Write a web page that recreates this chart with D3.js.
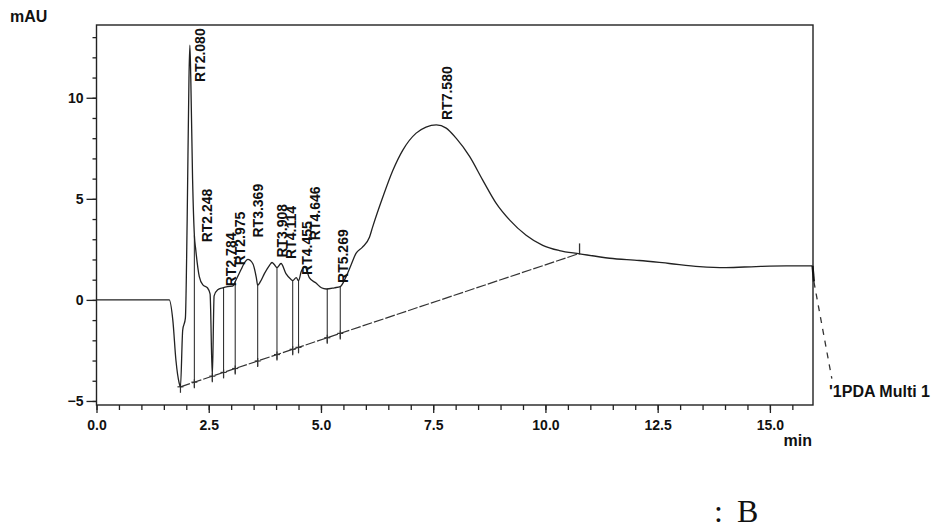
<!DOCTYPE html>
<html>
<head>
<meta charset="utf-8">
<script src="https://cdn.jsdelivr.net/npm/d3@7"></script>
<style>
  body { margin: 0; background: #fff; }
  svg text { font-family: "Liberation Sans", Arial, sans-serif; fill: #111; }
</style>
</head>
<body>
<svg id="chart" width="937" height="531"></svg>
<script>
// signal (min / mAU)
const times = [0, 1.62, 1.70, 1.77, 1.84, 1.87, 1.92, 1.98, 2.02, 2.06, 2.08, 2.10, 2.14, 2.18, 2.21, 2.29, 2.37, 2.47, 2.53, 2.58,
  2.62, 2.70, 2.81, 2.92, 3.03, 3.11, 3.22, 3.30, 3.37, 3.48, 3.56, 3.59, 3.65, 3.74, 3.85, 3.91, 3.96, 4.02, 4.11, 4.22,
  4.34, 4.37, 4.45, 4.50, 4.56, 4.64, 4.74, 4.89, 5.01, 5.12, 5.30, 5.43, 5.56, 5.67, 5.78, 5.92, 6.08, 6.15, 6.38, 6.60,
  6.82, 7.12, 7.34, 7.57, 7.79, 8.01, 8.31, 8.60, 8.90, 9.20, 9.57, 9.94, 10.31, 10.76, 11.43, 12.09, 12.76, 13.43, 14.02, 14.69,
  15.36, 15.95];
const values = [0, 0, -1.0, -3.0, -4.1, -4.3, -1.5, -0.9, 4.0, 11.0, 12.6, 11.0, 6.0, 3.2, 2.5, 1.15, 0.74, 0.6, 0.3, -3.8,
  0.2, 0.5, 0.6, 0.66, 0.68, 1.0, 1.5, 1.85, 2.0, 1.8, 1.1, 0.72, 0.9, 1.3, 1.7, 1.85, 1.75, 1.6, 1.8, 1.3,
  1.0, 0.95, 1.1, 0.95, 1.4, 1.65, 1.1, 0.83, 0.6, 0.54, 0.6, 0.66, 1.15, 1.73, 2.3, 2.6, 3.1, 3.6, 5.1, 6.4,
  7.4, 8.25, 8.55, 8.66, 8.5, 8.0, 7.1, 5.94, 4.79, 3.96, 3.2, 2.7, 2.44, 2.28, 2.06, 1.95, 1.8, 1.65, 1.6, 1.65,
  1.68, 1.68];

// bout de signal hors cadre (pointillé)
const tailTimes = [15.95, 15.98, 16.38];
const tailValues = [1.68, 0.9, -3.9];

// pics
const peakTimes = [2.080, 2.248, 2.784, 2.975, 3.369, 3.908, 4.114, 4.455, 4.646, 5.269, 7.580];
const peakNames = ["RT2.080", "RT2.248", "RT2.784", "RT2.975", "RT3.369", "RT3.908", "RT4.114", "RT4.455", "RT4.646", "RT5.269", "RT7.580"];

// integration
const dropTimes = [2.18, 2.58, 2.83, 3.09, 3.59, 4.02, 4.37, 4.50, 5.14, 5.43];
const baseTimes = [1.87, 10.76];
const baseValues = [-4.3, 2.3];

const xTicks = [0, 2.5, 5, 7.5, 10, 12.5, 15];
const yTicks = [-5, 0, 5, 10];

// mise en page des etiquettes (px au-dessus du signal)
const labelLift = [5, 20, 2, 21, 22, 5, 5, 3, 27, 5, 5];

const svg = d3.select("#chart");
const plotLeft = 96.5, plotRight = 813, plotTop = 25, plotBottom = 405;

const x = d3.scaleLinear().domain([0, 15.96]).range([plotLeft, plotRight]);
const y = d3.scaleLinear().domain([-5.2, 13.6]).range([plotBottom, plotTop]);

const signal = d3.scaleLinear().domain(times).range(values);
const base = d3.scaleLinear().domain(baseTimes).range(baseValues);

// axes
const gx = svg.append("g").attr("transform", `translate(0,${plotBottom})`);
gx.call(d3.axisBottom(x).tickValues(d3.range(0, 16, 0.5)).tickSize(5).tickFormat(""));
gx.append("g").call(d3.axisBottom(x).tickValues(xTicks).tickSize(8).tickPadding(7).tickFormat(d3.format(".1f")));

const gy = svg.append("g").attr("transform", `translate(${plotLeft},0)`);
gy.call(d3.axisLeft(y).tickValues(d3.range(-5, 14, 1)).tickSize(4).tickFormat(""));
gy.append("g").call(d3.axisLeft(y).tickValues(yTicks).tickSize(10).tickPadding(3));

svg.selectAll(".domain").remove();
svg.selectAll(".tick line").attr("stroke", "#222").attr("stroke-width", 1.3);
svg.selectAll(".tick text").attr("font-size", 14).attr("font-weight", "bold").attr("fill", "#111");

// cadre
svg.append("rect")
  .attr("x", plotLeft).attr("y", plotTop)
  .attr("width", plotRight - plotLeft).attr("height", plotBottom - plotTop)
  .attr("fill", "none").attr("stroke", "#222").attr("stroke-width", 1.4);

// ligne de base
svg.append("line")
  .attr("x1", x(baseTimes[0])).attr("y1", y(baseValues[0]))
  .attr("x2", x(baseTimes[1])).attr("y2", y(baseValues[1]))
  .attr("stroke", "#333").attr("stroke-width", 1.2).attr("stroke-dasharray", "10,2");

// lignes de coupure
dropTimes.forEach(t => {
  svg.append("line")
    .attr("x1", x(t)).attr("x2", x(t))
    .attr("y1", y(signal(t))).attr("y2", y(base(t)) + 5)
    .attr("stroke", "#333").attr("stroke-width", 1.1);
});

// marqueurs sur la ligne de base
[baseTimes[0], ...dropTimes].forEach(t => {
  const px = x(t), py = y(base(t));
  svg.append("line").attr("x1", px - 3).attr("x2", px + 3).attr("y1", py).attr("y2", py)
    .attr("stroke", "#333").attr("stroke-width", 1.2);
  svg.append("line").attr("x1", px).attr("x2", px).attr("y1", py - 3).attr("y2", py + 6)
    .attr("stroke", "#333").attr("stroke-width", 1.2);
});
svg.append("line")
  .attr("x1", x(baseTimes[1])).attr("x2", x(baseTimes[1]))
  .attr("y1", y(baseValues[1]) - 10).attr("y2", y(baseValues[1]) + 1)
  .attr("stroke", "#333").attr("stroke-width", 1.3);

// signal
const line = d3.line().x(d => x(d[0])).y(d => y(d[1])).curve(d3.curveMonotoneX);
svg.append("path")
  .datum(d3.zip(times, values))
  .attr("d", line)
  .attr("fill", "none").attr("stroke", "#222").attr("stroke-width", 1.3);

const tail = d3.zip(tailTimes, tailValues);
svg.append("path")
  .datum(tail.slice(0, 2))
  .attr("d", d3.line().x(d => x(d[0])).y(d => y(d[1])))
  .attr("fill", "none").attr("stroke", "#111").attr("stroke-width", 2.2);
svg.append("path")
  .datum(tail.slice(1))
  .attr("d", d3.line().x(d => x(d[0])).y(d => y(d[1])))
  .attr("fill", "none").attr("stroke", "#333").attr("stroke-width", 1.3).attr("stroke-dasharray", "6,6");

// etiquettes des pics
peakTimes.forEach((t, i) => {
  const px = x(t) + 15;
  const py = Math.max(y(signal(t)) - labelLift[i], plotTop + 57);
  svg.append("text")
    .attr("transform", `translate(${px},${py}) rotate(-90)`)
    .attr("font-size", 14).attr("font-weight", "bold")
    .text(peakNames[i]);
});

// textes
svg.append("text").attr("x", 10).attr("y", 22)
  .attr("font-size", 16).attr("font-weight", "bold").text("mAU");
svg.append("text").attr("x", 812).attr("y", 446).attr("text-anchor", "end")
  .attr("font-size", 16).attr("font-weight", "bold").text("min");
svg.append("text").attr("x", 829).attr("y", 397)
  .attr("font-size", 16).attr("font-weight", "bold").text("'1PDA Multi 1");

svg.append("text").attr("x", 714).attr("y", 522)
  .style("font-family", "'Liberation Serif', 'Times New Roman', serif")
  .attr("font-size", 32).text(":");
svg.append("text").attr("x", 737).attr("y", 522)
  .style("font-family", "'Liberation Serif', 'Times New Roman', serif")
  .attr("font-size", 32).text("B");
</script>
</body>
</html>
